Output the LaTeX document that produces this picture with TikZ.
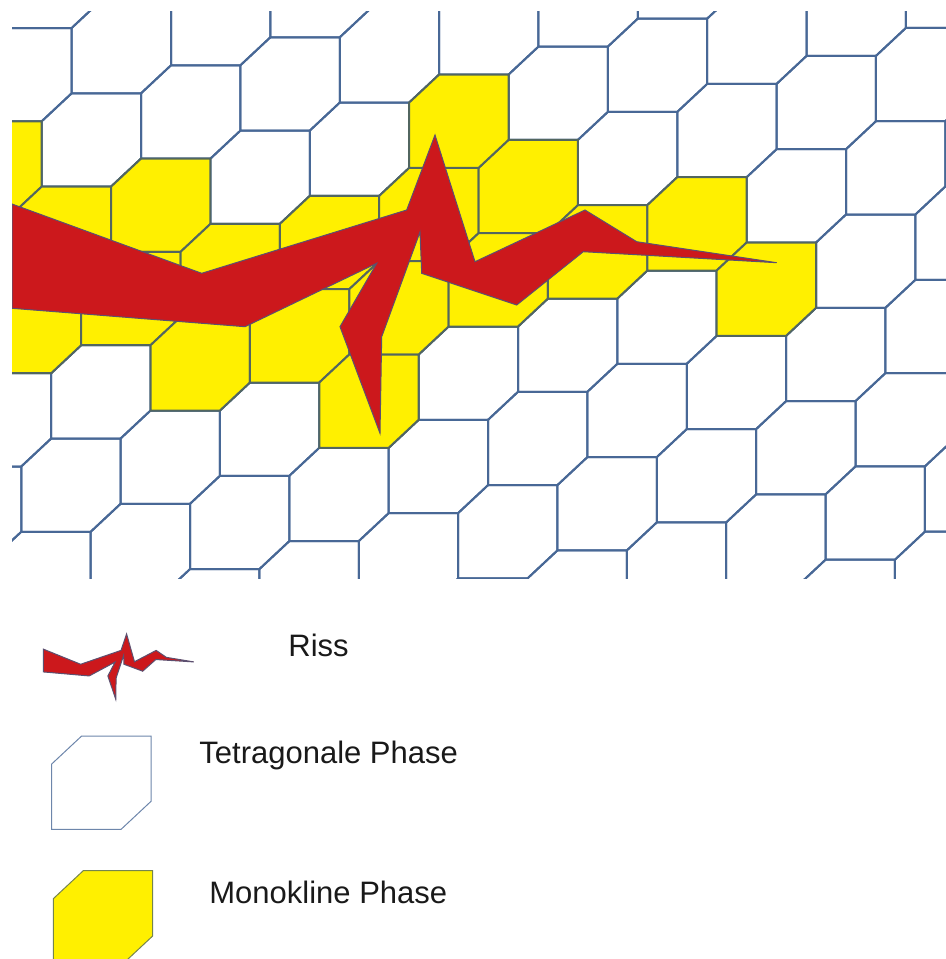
\documentclass[tikz,border=0pt]{standalone}
\usepackage{fontspec}
\setmainfont{Liberation Sans}
\usepackage{xcolor}
\usepackage{tikz}

\definecolor{grainblue}{RGB}{72,104,150}
\definecolor{grainolive}{RGB}{82,102,96}
\definecolor{monoyellow}{RGB}{255,240,0}
\definecolor{crackred}{RGB}{204,24,28}
\definecolor{crackedge}{RGB}{92,80,112}

% one grain, top-left corner at the origin (pixel units, y downwards)
\newcommand{\grainpath}{(0,28) -- (29.95,0) -- (99.35,0) -- (99.35,65.3)
  -- (69.4,93.3) -- (0,93.3) -- cycle}
% the crack through the monoclinic grains
\newcommand{\crackpath}{(12,204) -- (201.7,273.3) -- (406.7,210) -- (435,135)
  -- (475,261.7) -- (585,210) -- (636.7,241.7) -- (776.7,262.7) -- (583.3,251.7)
  -- (516.7,305) -- (421.7,273.3) -- (420,232) -- (381.7,336.7) -- (380,433.3)
  -- (340,326.7) -- (376.7,263.3) -- (245,326.7) -- (12,308.3) -- cycle}

\begin{document}
\begin{tikzpicture}[x=0.5pt, y=-0.5pt,
  tetra/.style={draw=grainblue, line width=1pt, line join=miter},
  mono/.style={draw=grainolive, fill=monoyellow, line width=1pt},
  crack/.style={draw=crackedge, fill=crackred, line width=0.5pt, line join=miter},
  tetrakey/.style={draw=grainblue!80, line width=0.5pt},
  monokey/.style={draw=grainolive!80!yellow, fill=monoyellow, line width=0.5pt},
  keytext/.style={anchor=base west, inner sep=0pt, text=black!90,
    font=\fontsize{15.5}{18}\selectfont}
]
  \useasboundingbox (0,0) rectangle (946,959);

  \begin{scope}
    \clip (12,11) rectangle (947,578);
    % tetragonal matrix
    \foreach \n in {-6,...,10}
      \foreach \m in {-3,...,9}
        \draw[tetra, shift={({41.7+99.35*\n+69.4*\m},{93.3-28*\n+65.3*\m})}] \grainpath;
    % transformed grains along the crack
    \foreach \n/\m in {-1/0, -1/1, 0/1, -2/2, -1/2, 0/2, 1/2, 2/2, 3/2, 3/1,
                       -1/3, 0/3, 1/3, 2/3, 3/3, 4/3, 0/4, 4/4}
      \filldraw[mono, shift={({41.7+99.35*\n+69.4*\m},{93.3-28*\n+65.3*\m})}] \grainpath;
    \filldraw[crack] \crackpath;
  \end{scope}

  % key
  \begin{scope}[shift={(40.9,604.4)}, xscale=0.197, yscale=0.219]
    \filldraw[crack] \crackpath;
  \end{scope}
  \draw[tetrakey, shift={(51.7,736)}] \grainpath;
  \filldraw[monokey, shift={(53.3,870.7)}] \grainpath;

  \node[keytext] (riss)  at (288,656.7) {Riss};
  \node[keytext] (tetra) at (199,763.3) {Tetragonale Phase};
  \node[keytext] (mono)  at (209,903.3) {Monokline Phase};
\end{tikzpicture}
\end{document}
